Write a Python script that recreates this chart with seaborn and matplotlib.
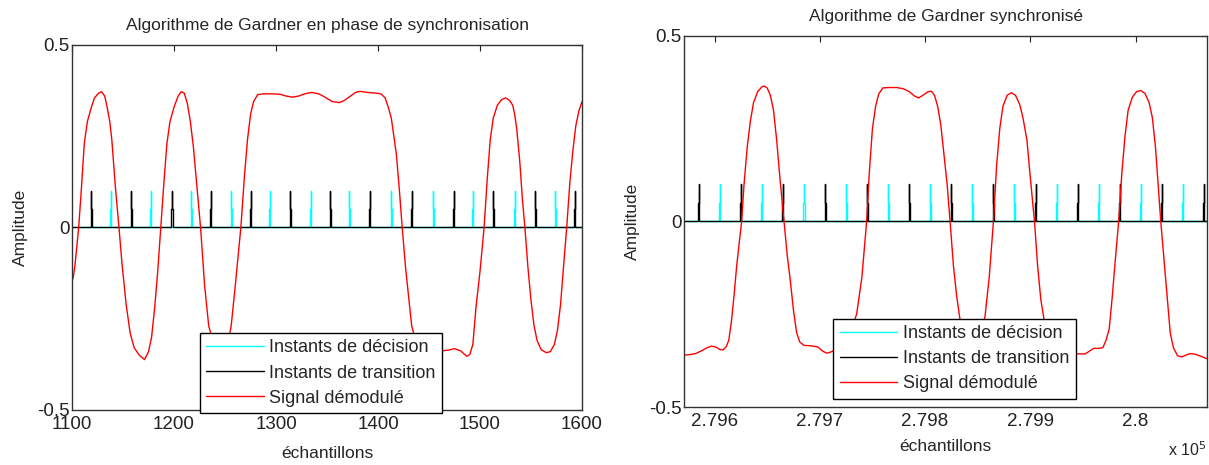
import numpy as np
import pandas as pd
import seaborn as sns
import matplotlib
matplotlib.use('Agg')
import matplotlib.pyplot as plt
from matplotlib.ticker import FuncFormatter

# instants (sample index)
left_decision = [1138, 1177, 1217, 1256, 1294, 1334, 1372, 1413, 1454, 1493, 1534, 1574]
left_transition = [1119, 1158, 1198, 1236, 1275, 1314, 1353, 1392, 1433, 1474, 1513, 1554, 1593]
right_decision = [279605, 279645, 279685, 279725, 279765, 279805, 279845, 279885, 279925, 279965, 280005, 280045]
right_transition = [279585, 279625, 279665, 279705, 279745, 279785, 279825, 279865, 279905, 279945, 279985, 280025, 280065]

# demodulated signal
left_x = [1101, 1103, 1106.5, 1109, 1112, 1115, 1119, 1122, 1126, 1129, 1132, 1134, 1137, 1139, 1142.5,
          1146, 1149, 1153, 1157, 1161, 1166, 1171, 1175, 1178, 1181, 1184, 1187, 1190, 1193, 1196,
          1200, 1204, 1207, 1210, 1213, 1216, 1219, 1222.5, 1226, 1230, 1234, 1240, 1246, 1252, 1256,
          1260, 1265.5, 1269, 1272, 1275, 1278, 1282, 1288, 1296, 1304, 1310, 1316, 1322, 1328, 1335,
          1342, 1348, 1355, 1362, 1367, 1372, 1378, 1382, 1390, 1398, 1403, 1407, 1410, 1413, 1416,
          1418, 1421, 1423.7, 1427, 1430, 1433, 1438, 1445, 1455, 1462, 1469, 1475, 1481, 1487, 1490,
          1493, 1496, 1500, 1504, 1507, 1510, 1513, 1517, 1521, 1525, 1529, 1532, 1534, 1536, 1539,
          1541.5, 1544, 1547, 1550, 1553, 1556, 1560, 1565, 1569, 1573, 1576, 1579, 1581.5, 1585, 1588,
          1591, 1594, 1597, 1600]
left_y = [-0.14, -0.10, 0.0, 0.10, 0.23, 0.29, 0.33, 0.355, 0.368, 0.372, 0.36, 0.335, 0.29, 0.24, 0.11,
          0.0, -0.10, -0.21, -0.29, -0.33, -0.35, -0.362, -0.34, -0.30, -0.22, -0.12, 0.0, 0.12, 0.23, 0.29,
          0.33, 0.36, 0.372, 0.368, 0.34, 0.29, 0.22, 0.11, 0.0, -0.16, -0.27, -0.33, -0.35, -0.33, -0.27,
          -0.16, 0.0, 0.14, 0.24, 0.31, 0.345, 0.364, 0.366, 0.366, 0.365, 0.36, 0.357, 0.36, 0.366, 0.37,
          0.366, 0.357, 0.345, 0.342, 0.348, 0.358, 0.37, 0.373, 0.37, 0.368, 0.366, 0.355, 0.33, 0.30, 0.24,
          0.2, 0.1, 0.0, -0.11, -0.19, -0.27, -0.32, -0.335, -0.34, -0.338, -0.336, -0.332, -0.338, -0.353, -0.348,
          -0.32, -0.22, -0.12, 0.0, 0.13, 0.24, 0.30, 0.335, 0.35, 0.355, 0.348, 0.335, 0.31, 0.27, 0.18,
          0.08, 0.0, -0.11, -0.2, -0.27, -0.31, -0.335, -0.343, -0.34, -0.32, -0.28, -0.21, -0.12, 0.0, 0.12,
          0.21, 0.28, 0.32, 0.345]

right_x = [279571, 279576, 279582, 279588, 279593, 279597, 279601, 279605, 279608, 279611, 279613.5, 279616,
           279618.5, 279621, 279625.7, 279628, 279631, 279634, 279637, 279641, 279645, 279647, 279650, 279653,
           279656, 279659, 279662, 279666, 279669, 279672, 279675, 279678, 279681, 279685, 279692, 279698,
           279703, 279707, 279712, 279718, 279724, 279730, 279735, 279740, 279744.5, 279747, 279750, 279753,
           279756, 279760, 279766, 279773, 279779, 279785, 279790, 279794, 279799, 279803, 279806, 279809,
           279812, 279815, 279818, 279821, 279823.8, 279827, 279830, 279833, 279838, 279843, 279848, 279853,
           279857, 279861, 279865, 279868, 279871, 279874, 279878, 279882, 279886, 279890, 279893, 279896.8,
           279900, 279904, 279907, 279910, 279914, 279920, 279930, 279940, 279947, 279952, 279956, 279960,
           279965, 279969, 279972, 279975, 279978, 279980, 279984, 279987, 279990, 279993, 279997, 280001,
           280005, 280009, 280013, 280016, 280019, 280021, 280024, 280027, 280030, 280033, 280036, 280040,
           280044, 280048, 280052, 280057, 280062, 280068]
right_y = [-0.360, -0.359, -0.356, -0.348, -0.34, -0.336, -0.338, -0.345, -0.346, -0.338, -0.32, -0.27,
           -0.2, -0.12, 0.0, 0.1, 0.2, 0.27, 0.32, 0.35, 0.363, 0.365, 0.36, 0.34,
           0.30, 0.22, 0.12, 0.0, -0.09, -0.16, -0.24, -0.30, -0.325, -0.334, -0.335, -0.338,
           -0.35, -0.355, -0.35, -0.34, -0.32, -0.29, -0.25, -0.15, 0.0, 0.13, 0.25, 0.31,
           0.344, 0.36, 0.361, 0.361, 0.358, 0.35, 0.338, 0.333, 0.342, 0.35, 0.351, 0.34,
           0.31, 0.26, 0.18, 0.1, 0.0, -0.12, -0.2, -0.26, -0.32, -0.34, -0.33, -0.3,
           -0.256, -0.15, 0.0, 0.15, 0.25, 0.31, 0.34, 0.347, 0.34, 0.315, 0.28, 0.22,
           0.12, 0.0, -0.12, -0.21, -0.28, -0.33, -0.35, -0.355, -0.357, -0.357, -0.35, -0.342,
           -0.342, -0.34, -0.32, -0.29, -0.2, -0.13, 0.0, 0.13, 0.23, 0.3, 0.335, 0.35,
           0.353, 0.345, 0.32, 0.28, 0.2, 0.12, 0.0, -0.1, -0.2, -0.3, -0.34, -0.362,
           -0.365, -0.36, -0.356, -0.358, -0.363, -0.37]


def pulses(instants, x0, x1):
    # small marker pulse (0.1 high, 0.05 shoulder) at each instant, zero elsewhere
    xs, ys = [x0], [0.0]
    for t in instants:
        xs += [t - 0.5, t - 0.5, t, t, t, t + 0.5, t + 0.5]
        ys += [0, 0.05, 0.05, 0.1, 0.05, 0.05, 0]
    xs.append(x1)
    ys.append(0.0)
    return pd.DataFrame({'x': xs, 'y': ys})


sns.set_style('white')
plt.rcParams['font.family'] = ['Liberation Sans', 'DejaVu Sans']
plt.rcParams['axes.unicode_minus'] = False

fig = plt.figure(figsize=(12.09, 4.65), dpi=100)
ax1 = fig.add_axes([0.0596, 0.1183, 0.4218, 0.785])
ax2 = fig.add_axes([0.5658, 0.1247, 0.4326, 0.798])

panels = [
    (ax1, left_decision, left_transition, left_x, left_y, 1100, 1600,
     'Algorithme de Gardner en phase de synchronisation', (0.245, -0.014, 0.486, 0.23), 10),
    (ax2, right_decision, right_transition, right_x, right_y, 279571, 280068,
     'Algorithme de Gardner synchronisé', (0.2715, 0.016, 0.491, 0.229), 7),
]

for ax, dec, tra, sx, sy, x0, x1, title, lbox, xpad in panels:
    d = pulses(dec, x0, x1)
    t = pulses(tra, x0, x1)
    s = pd.DataFrame({'x': sx, 'y': sy})
    sns.lineplot(data=d, x='x', y='y', ax=ax, color='cyan', lw=1, sort=False,
                 estimator=None, label='Instants de décision')
    sns.lineplot(data=t, x='x', y='y', ax=ax, color='black', lw=1, sort=False,
                 estimator=None, label='Instants de transition')
    sns.lineplot(data=s, x='x', y='y', ax=ax, color='red', lw=1, sort=False,
                 estimator=None, label='Signal démodulé')
    ax.set_xlim(x0, x1)
    ax.set_ylim(-0.5, 0.5)
    ax.set_yticks([-0.5, 0, 0.5])
    ax.yaxis.set_major_formatter(FuncFormatter(lambda v, p: '%g' % v))
    ax.set_title(title, fontsize=12.5, pad=11)
    ax.set_xlabel('échantillons', fontsize=12.5, labelpad=xpad)
    ax.set_ylabel('Amplitude', fontsize=12.5, labelpad=6)
    ax.tick_params(direction='in', top=True, right=True, length=4, width=0.8,
                   labelsize=13.5, colors='#222222', pad=2)
    ax.tick_params(axis='x', pad=4)
    for sp in ax.spines.values():
        sp.set_color('#333333')
        sp.set_linewidth(1)
    leg = ax.legend(loc='center', bbox_to_anchor=lbox, fontsize=13, frameon=True,
                    fancybox=False, framealpha=1, edgecolor='black', handlelength=3.2,
                    borderpad=0.35, labelspacing=0.45, handletextpad=0.3, borderaxespad=0)
    leg.get_frame().set_linewidth(1)

ax1.set_xticks([1100, 1200, 1300, 1400, 1500, 1600])
ax2.set_xticks([279600, 279700, 279800, 279900, 280000])
ax2.xaxis.set_major_formatter(FuncFormatter(lambda v, p: '%g' % (v / 1e5)))
ax2.text(0.998, -0.09, r'x 10$^5$', transform=ax2.transAxes, ha='right', va='top', fontsize=11.5)

fig.savefig('out.png', dpi=100)
